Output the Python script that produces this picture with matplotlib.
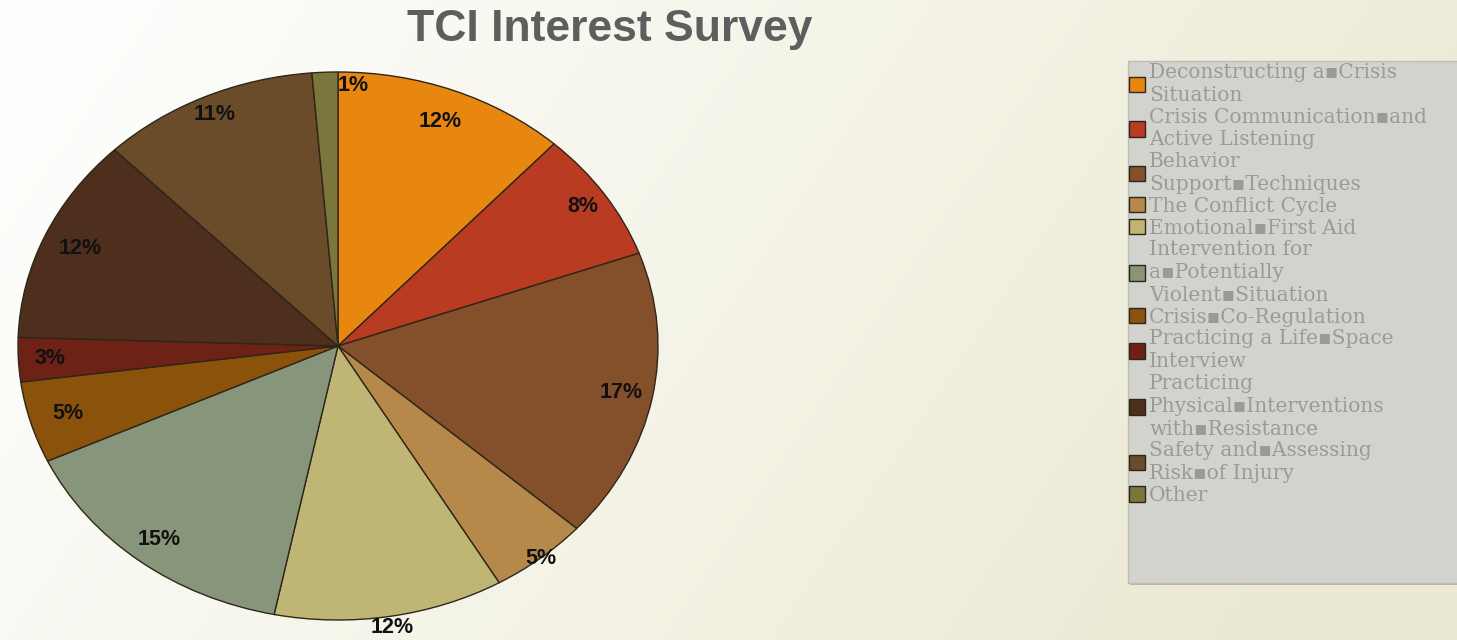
import numpy as np
import matplotlib
matplotlib.use("Agg")
import matplotlib.pyplot as plt
from matplotlib.patches import Rectangle
from matplotlib.font_manager import FontProperties

# survey shares (%), clockwise from 12 o'clock
topics = ['Deconstructing a\u25aaCrisis\nSituation',
          'Crisis Communication\u25aaand\nActive Listening',
          'Behavior\nSupport\u25aaTechniques',
          'The Conflict Cycle',
          'Emotional\u25aaFirst Aid',
          'Intervention for\na\u25aaPotentially\nViolent\u25aaSituation',
          'Crisis\u25aaCo-Regulation',
          'Practicing a Life\u25aaSpace\nInterview',
          'Practicing\nPhysical\u25aaInterventions\nwith\u25aaResistance',
          'Safety and\u25aaAssessing\nRisk\u25aaof Injury',
          'Other']
shares = [11.8, 7.7, 17.1, 5.0, 11.6, 14.9, 4.8, 2.6, 12.2, 11.0, 1.3]
colours = ['#E8870F', '#B83B22', '#83502B', '#B6884A', '#BFB676', '#87957A',
           '#8A520A', '#6E2216', '#4E2E1C', '#6A4B2A', '#7B763B']

# label radius per slice (bottom ones sit on the rim)
label_r = [0.88, 0.92, 0.9, 1.0, 1.04, 0.9, 0.88, 0.9, 0.88, 0.93, 0.95]

W, H = 1457, 640
fig = plt.figure(figsize=(W/100, H/100), dpi=100)

# background gradient
bg = fig.add_axes([0, 0, 1, 1], zorder=-10)
xx, yy = np.meshgrid(np.linspace(0, 1, 300), np.linspace(0, 1, 150))
t = np.clip(0.85*xx + 0.25*yy, 0, 1)
c0 = np.array([1.0, 1.0, 1.0])
c1 = np.array([0xEB, 0xE9, 0xD2]) / 255
img = c0[None, None, :]*(1-t[..., None]) + c1[None, None, :]*t[..., None]
bg.imshow(img, aspect='auto', extent=[0, 1, 0, 1], origin='upper')
bg.axis('off')

# pie (elliptical, so no equal aspect)
cx, cy, rx, ry = 338, 346, 320, 274
ax = fig.add_axes([(cx-rx)/W, (H-cy-ry)/H, 2*rx/W, 2*ry/H])
wedges, _ = ax.pie(shares, colors=colours, startangle=90, counterclock=False,
                   radius=1, wedgeprops=dict(edgecolor='#2e2618', linewidth=1.0))
ax.set_aspect('auto')
ax.set_xlim(-1, 1)
ax.set_ylim(-1, 1)
ax.axis('off')

total = sum(shares)
for i, w in enumerate(wedges):
    pct = '%.0f%%' % (100*shares[i]/total)
    if i == len(wedges) - 1:
        ang = np.deg2rad(90)
        ha = 'left'
    else:
        ang = np.deg2rad((w.theta1 + w.theta2)/2)
        ha = 'center'
    r = label_r[i]
    ax.text(r*np.cos(ang), r*np.sin(ang), pct, ha=ha, va='center',
            fontsize=15.5, fontweight='bold', family='Liberation Sans', color='#111111')

fig.text(610/W, 1-30/H, 'TCI Interest Survey', ha='center', va='center',
         fontsize=32, fontweight='bold', family='Liberation Sans', color='#5e5e5e')

# legend box
fig.patches.append(Rectangle((1130/W, 1-585/H), 330/W, 524/H, transform=fig.transFigure,
                             facecolor='#b9b8ae', edgecolor='none', zorder=0))
fig.patches.append(Rectangle((1128/W, 1-583/H), 330/W, 522/H, transform=fig.transFigure,
                             facecolor='#d3d3ce', edgecolor='#bdbdb5', linewidth=1, zorder=1))

prop = FontProperties(family=['DejaVu Serif', 'DejaVu Sans'], size=14.5)
leg = fig.legend(wedges, topics, loc='upper left', bbox_to_anchor=(1129/W, 1-63/H),
                 frameon=False, prop=prop, handlelength=0.8, handleheight=0.8,
                 handletextpad=0.2, labelspacing=0.14, borderpad=0.0, borderaxespad=0.0)
for txt in leg.get_texts():
    txt.set_color('#9a9a9a')
    txt.set_linespacing(1.25)

fig.savefig('out.png', dpi=100)
